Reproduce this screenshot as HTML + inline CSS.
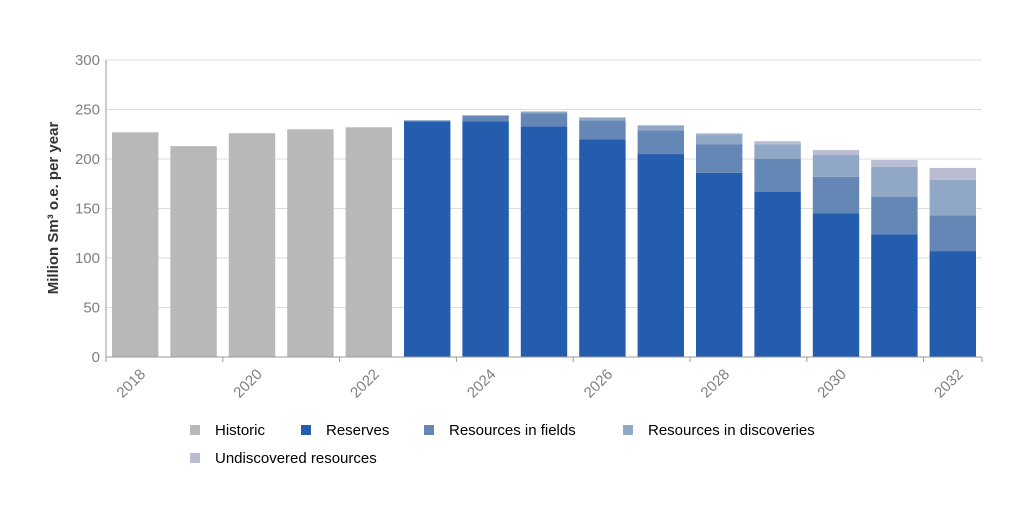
<!DOCTYPE html>
<html><head><meta charset="utf-8"><style>
body{margin:0;background:#fff;}
svg{display:block;font-family:"Liberation Sans",sans-serif;}
</style></head><body>
<svg id="chart" width="1024" height="510"></svg>
<script>
const years=[2018,2019,2020,2021,2022,2023,2024,2025,2026,2027,2028,2029,2030,2031,2032];
const historic=[227,213,226,230,232,0,0,0,0,0,0,0,0,0,0];
const reserves=[0,0,0,0,0,238,238,233,220,205,186,167,145,124,107];
const fields=[0,0,0,0,0,1,6,13,19,24,29,33,37,38,36];
const discoveries=[0,0,0,0,0,0,0,2,3,5,10,15,22,30,36];
const undiscovered=[0,0,0,0,0,0,0,0,0,0,1,3,5,7,12];
const yTicks=[0,50,100,150,200,250,300];
const xTickYears=[2018,2020,2022,2024,2026,2028,2030,2032];
const NS="http://www.w3.org/2000/svg";
const svg=document.getElementById('chart');
const X0=106,X1=982,Y0=357,Y1=60,YMAX=300;
const band=(X1-X0)/years.length;
const y=v=>Y0-(v/YMAX)*(Y0-Y1);
const xl=i=>X0+i*band;
function mk(t,a){const e=document.createElementNS(NS,t);for(const k in a)e.setAttribute(k,a[k]);svg.appendChild(e);return e;}
yTicks.forEach(t=>{
 if(t>0){const g=mk('line',{x1:X0,x2:X1,y1:y(t),y2:y(t),stroke:'#dcdcdc','stroke-width':1});
 
 }
 const l=mk('text',{x:100,y:y(t)+5,'text-anchor':'end','font-size':15,fill:'#808080'});
 l.textContent=t;
 
 
});
const series=[[historic,'#b8b8b8','historic'],[reserves,'#245dad','reserves'],[fields,'#6587b6','fields'],[discoveries,'#91a7c6','discoveries'],[undiscovered,'#b9bcd3','undiscovered']];
years.forEach((yr,i)=>{
 let base=0;
 series.forEach(([arr,c,n])=>{
  const v=arr[i]; if(v<=0)return;
  const r=mk('rect',{x:xl(i)+6,width:band-12,y:y(base+v),height:y(base)-y(base+v),fill:c});
  
  
  base+=v;
 });
});
const ax=mk('line',{x1:X0,x2:X1,y1:Y0,y2:Y0,stroke:'#999'});


const ay=mk('line',{x1:X0,x2:X0,y1:Y1,y2:Y0,stroke:'#999'});


xTickYears.forEach(yr=>{
 const i=years.indexOf(yr);
 const tk=mk('line',{x1:xl(i),x2:xl(i),y1:Y0,y2:Y0+5,stroke:'#999'});
 
 
 const cx=xl(i)+band/2+4,cy=368;
 const t=mk('text',{x:cx,y:cy+10,'text-anchor':'end','font-size':15,fill:'#808080',transform:`rotate(-45 ${cx} ${cy})`});
 t.textContent=yr;
 
 
});
const endTk=mk('line',{x1:X1,x2:X1,y1:Y0,y2:Y0+5,stroke:'#999'});


const yt=mk('text',{x:58,y:208,'text-anchor':'middle','font-size':15,'font-weight':'bold',fill:'#333',transform:'rotate(-90 58 208)'});
yt.textContent='Million Sm³ o.e. per year';


const legend=[['Historic','#b8b8b8',190,430],['Reserves','#245dad',301,430],['Resources in fields','#6587b6',424,430],['Resources in discoveries','#91a7c6',623,430],['Undiscovered resources','#b9bcd3',190,458]];
legend.forEach(([lab,c,lx,ly])=>{
 const s=mk('rect',{x:lx,y:ly-5,width:10,height:10,fill:c});
 
 
 const t=mk('text',{x:lx+25,y:ly+5,'font-size':15,fill:'#000'});
 t.textContent=lab;
 
 
});
</script>
</body></html>
